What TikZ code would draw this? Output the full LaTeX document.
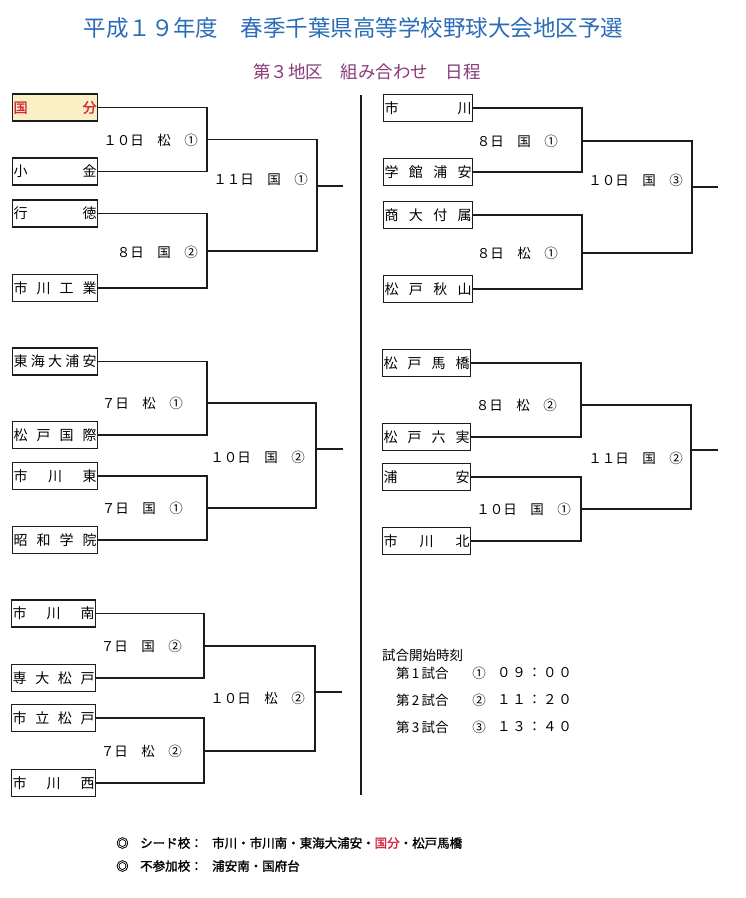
\documentclass[tikz,border=0pt]{standalone}
\usepackage{fontspec}
\setmainfont{Noto Sans CJK JP}
\newfontfamily\cjkb{Noto Sans CJK JP}[FakeBold=1.6]
\definecolor{titleblue}{HTML}{2A6CB8}
\definecolor{subpurple}{HTML}{8A3A78}
\definecolor{linec}{HTML}{1C1C1C}
\definecolor{seedfill}{HTML}{FBF0C4}
\definecolor{seedred}{HTML}{D42842}
\begin{document}
\begin{tikzpicture}[x=1pt,y=-1pt,
  team/.style={draw=linec, line width=1.2pt, minimum width=#1, minimum height=27pt,
    inner sep=0pt, anchor=west, font=\fontsize{14}{14}\selectfont, text=black},
  team/.default=85pt,
  seed/.style={team=#1, fill=seedfill, text=seedred},
  seed/.default=85pt,
  lbl/.style={anchor=east, inner sep=0pt, font=\fontsize{13.5}{13.5}\selectfont, text=black},
  conn/.style={draw=linec, line width=1.1pt},
  plain/.style={inner sep=0pt, anchor=west, text=black},
  note/.style={inner sep=0pt, anchor=west, text=black, font=\cjkb\fontsize{12.5}{12.5}\selectfont},
]
\useasboundingbox[fill=white] (0,0) rectangle (746,898);

% titles
\node[inner sep=0pt, text=titleblue, font=\fontsize{22.5}{22.5}\selectfont] (title) at (353.5,28) {平成１９年度　春季千葉県高等学校野球大会地区予選};
\node[inner sep=0pt, text=subpurple, font=\fontsize{17.5}{17.5}\selectfont] (subtitle) at (367,72) {第３地区　組み合わせ　日程};

% divider
\coordinate (divtop) at (361,95);
\coordinate (divbot) at (361,795);
\draw[conn] (divtop) -- (divbot);

% ---------- left column ----------
\node[seed] (L1) at (12,107.5) {\makebox[83pt]{\cjkb 国\hfill 分}};
\node[team] (L2) at (12,171.5) {\makebox[83pt]{小\hfill 金}};
\node[team] (L3) at (12,213.5) {\makebox[83pt]{行\hfill 徳}};
\node[team] (L4) at (12,288) {\makebox[83pt]{市\hfill 川\hfill 工\hfill 業}};

\node[team] (L5) at (12,361.5) {\makebox[83pt]{東\hfill 海\hfill 大\hfill 浦\hfill 安}};
\node[team] (L6) at (12,435) {\makebox[83pt]{松\hfill 戸\hfill 国\hfill 際}};
\node[team] (L7) at (12,476) {\makebox[83pt]{市\hfill 川\hfill 東}};
\node[team] (L8) at (12,540) {\makebox[83pt]{昭\hfill 和\hfill 学\hfill 院}};

\node[team=84pt] (L9) at (11,613.5) {\makebox[82pt]{市\hfill 川\hfill 南}};
\node[team=84pt] (L10) at (11,678) {\makebox[82pt]{専\hfill 大\hfill 松\hfill 戸}};
\node[team=84pt] (L11) at (11,718) {\makebox[82pt]{市\hfill 立\hfill 松\hfill 戸}};
\node[team=84pt] (L12) at (11,783) {\makebox[82pt]{市\hfill 川\hfill 西}};

\coordinate (La) at (207,139.5);
\coordinate (Lb) at (207,251);
\coordinate (Lm) at (317,186);
\coordinate (Lo) at (343,186);
\draw[conn] (L1.east) -| (La) |- (L2.east);
\draw[conn] (L3.east) -| (Lb) |- (L4.east);
\draw[conn] (La) -| (Lm) |- (Lb);
\draw[conn] (Lm) -- (Lo);

\coordinate (Lc) at (207,403);
\coordinate (Ld) at (207,508);
\coordinate (Ln) at (316,449);
\coordinate (Lp) at (343,449);
\draw[conn] (L5.east) -| (Lc) |- (L6.east);
\draw[conn] (L7.east) -| (Ld) |- (L8.east);
\draw[conn] (Lc) -| (Ln) |- (Ld);
\draw[conn] (Ln) -- (Lp);

\coordinate (Le) at (204,646);
\coordinate (Lf) at (204,751);
\coordinate (Lq) at (315,692);
\coordinate (Lr) at (342,692);
\draw[conn] (L9.east) -| (Le) |- (L10.east);
\draw[conn] (L11.east) -| (Lf) |- (L12.east);
\draw[conn] (Le) -| (Lq) |- (Lf);
\draw[conn] (Lq) -- (Lr);

\node[lbl] (tl1) at (198,140) {１０日　松　①};
\node[lbl] (tl2) at (198,252) {８日　国　②};
\node[lbl] (tl3) at (308,179) {１１日　国　①};
\node[lbl] (tl4) at (183,403) {７日　松　①};
\node[lbl] (tl5) at (183,508) {７日　国　①};
\node[lbl] (tl6) at (305,457) {１０日　国　②};
\node[lbl] (tl7) at (182,646) {７日　国　②};
\node[lbl] (tl8) at (182,751) {７日　松　②};
\node[lbl] (tl9) at (305,698) {１０日　松　②};

% ---------- right column ----------
\node[team=89pt] (R1) at (383,108) {\makebox[87pt]{市\hfill 川}};
\node[team=89pt] (R2) at (383,172) {\makebox[87pt]{学\hfill 館\hfill 浦\hfill 安}};
\node[team=89pt] (R3) at (383,215) {\makebox[87pt]{商\hfill 大\hfill 付\hfill 属}};
\node[team=89pt] (R4) at (383,289) {\makebox[87pt]{松\hfill 戸\hfill 秋\hfill 山}};

\node[team=88pt] (R5) at (382,363) {\makebox[86pt]{松\hfill 戸\hfill 馬\hfill 橋}};
\node[team=88pt] (R6) at (382,437) {\makebox[86pt]{松\hfill 戸\hfill 六\hfill 実}};
\node[team=88pt] (R7) at (382,477) {\makebox[86pt]{浦\hfill 安}};
\node[team=88pt] (R8) at (382,541) {\makebox[86pt]{市\hfill 川\hfill 北}};

\coordinate (Ra) at (582,141);
\coordinate (Rb) at (582,253);
\coordinate (Rm) at (692,187);
\coordinate (Ro) at (718,187);
\draw[conn] (R1.east) -| (Ra) |- (R2.east);
\draw[conn] (R3.east) -| (Rb) |- (R4.east);
\draw[conn] (Ra) -| (Rm) |- (Rb);
\draw[conn] (Rm) -- (Ro);

\coordinate (Rc) at (581,405);
\coordinate (Rd) at (581,509);
\coordinate (Rn) at (691,450);
\coordinate (Rp) at (718,450);
\draw[conn] (R5.east) -| (Rc) |- (R6.east);
\draw[conn] (R7.east) -| (Rd) |- (R8.east);
\draw[conn] (Rc) -| (Rn) |- (Rd);
\draw[conn] (Rn) -- (Rp);

\node[lbl] (tr1) at (558,141) {８日　国　①};
\node[lbl] (tr2) at (558,253) {８日　松　①};
\node[lbl] (tr3) at (683,180) {１０日　国　③};
\node[lbl] (tr4) at (557,405) {８日　松　②};
\node[lbl] (tr5) at (571,509) {１０日　国　①};
\node[lbl] (tr6) at (683,458) {１１日　国　②};

% ---------- start times ----------
\node[plain, font=\fontsize{13.5}{13.5}\selectfont] (st0) at (382,655) {試合開始時刻};
\node[plain, font=\fontsize{13.5}{13.5}\selectfont] (st1) at (396,673) {第\,1\,試合};
\node[plain, font=\fontsize{13.5}{13.5}\selectfont] (st2) at (396,700) {第\,2\,試合};
\node[plain, font=\fontsize{13.5}{13.5}\selectfont] (st3) at (396,727) {第\,3\,試合};
\node[inner sep=0pt, font=\fontsize{13.5}{13.5}\selectfont] (c1) at (479,673) {①};
\node[inner sep=0pt, font=\fontsize{13.5}{13.5}\selectfont] (c2) at (479,700) {②};
\node[inner sep=0pt, font=\fontsize{13.5}{13.5}\selectfont] (c3) at (479,727) {③};
\node[plain, font=\fontsize{13.5}{13.5}\selectfont] (tm1) at (497,673) {０\kern1.8pt ９\kern1.8pt ：\kern1.8pt ０\kern1.8pt ０};
\node[plain, font=\fontsize{13.5}{13.5}\selectfont] (tm2) at (497,700) {１\kern1.8pt １\kern1.8pt ：\kern1.8pt ２\kern1.8pt ０};
\node[plain, font=\fontsize{13.5}{13.5}\selectfont] (tm3) at (497,727) {１\kern1.8pt ３\kern1.8pt ：\kern1.8pt ４\kern1.8pt ０};

% ---------- notes ----------
\node[note] (n1a) at (116,843) {◎};
\node[note] (n1b) at (140,843) {シード校：};
\node[note] (n1c) at (212,843) {市川・市川南・東海大浦安・{\color{seedred}国分}・松戸馬橋};
\node[note] (n2a) at (116,866) {◎};
\node[note] (n2b) at (140,866) {不参加校：};
\node[note] (n2c) at (212,866) {浦安南・国府台};
\end{tikzpicture}
\end{document}
